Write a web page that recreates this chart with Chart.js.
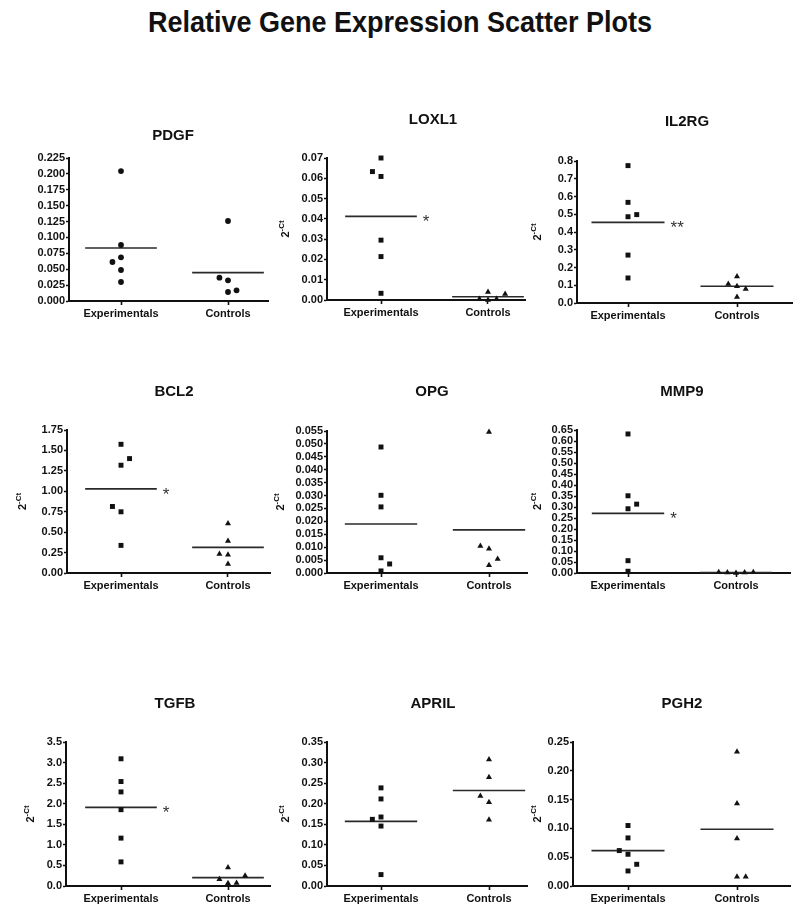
<!DOCTYPE html>
<html><head><meta charset="utf-8">
<script src="https://cdn.jsdelivr.net/npm/chart.js@4.4.1/dist/chart.umd.min.js"></script>
<style>
html,body{margin:0;padding:0;background:#fff;width:800px;height:912px;overflow:hidden;position:relative;}
#title{position:absolute;left:0;top:7px;width:800px;text-align:center;font:bold 30px "Liberation Sans",Arial,sans-serif;line-height:30px;color:#111;transform:scaleX(0.9);transform-origin:400px 0;}
canvas{position:absolute;}
</style></head><body>
<div id="title">Relative Gene Expression Scatter Plots</div>
<script>
// ---------- DATA ----------
const categories = ['Experimentals', 'Controls'];
const genes = ['PDGF', 'LOXL1', 'IL2RG', 'BCL2', 'OPG', 'MMP9', 'TGFB', 'APRIL', 'PGH2'];

const pdgfExp  = [0.2045, 0.0881, 0.0687, 0.0614, 0.0488, 0.0299];
const pdgfExpSlot = [0, 0, 0, -1, 0, 0];
const pdgfCtrl = [0.1259, 0.0367, 0.0325, 0.0168, 0.0142];
const pdgfCtrlSlot = [0, -1, 0, 1, 0];
const pdgfMeans = [0.0834, 0.0446];
const pdgfSig = ['', ''];

const loxl1Exp  = [0.0700, 0.0633, 0.0609, 0.0295, 0.0214, 0.0033];
const loxl1ExpSlot = [0, -1, 0, 0, 0, 0];
const loxl1Ctrl = [0.0040, 0.0005, 0.0000, 0.0005, 0.0030];
const loxl1CtrlSlot = [0, -1, 0, 1, 2];
const loxl1Means = [0.0412, 0.0016];
const loxl1Sig = ['*', ''];

const il2rgExp  = [0.774, 0.567, 0.498, 0.486, 0.270, 0.141];
const il2rgExpSlot = [0, 0, 1, 0, 0, 0];
const il2rgCtrl = [0.150, 0.107, 0.094, 0.079, 0.034];
const il2rgCtrlSlot = [0, -1, 0, 1, 0];
const il2rgMeans = [0.454, 0.094];
const il2rgSig = ['**', ''];

const bcl2Exp  = [1.575, 1.400, 1.319, 0.814, 0.749, 0.338];
const bcl2ExpSlot = [0, 1, 0, -1, 0, 0];
const bcl2Ctrl = [0.606, 0.391, 0.232, 0.224, 0.110];
const bcl2CtrlSlot = [0, 0, -1, 0, 0];
const bcl2Means = [1.030, 0.313];
const bcl2Sig = ['*', ''];

const opgExp  = [0.0488, 0.0301, 0.0256, 0.0059, 0.0035, 0.0008];
const opgExpSlot = [0, 0, 0, 0, 1, 0];
const opgCtrl = [0.0546, 0.0105, 0.0094, 0.0054, 0.0030];
const opgCtrlSlot = [0, -1, 0, 1, 0];
const opgMeans = [0.0190, 0.0167];
const opgSig = ['', ''];

const mmp9Exp  = [0.632, 0.351, 0.313, 0.292, 0.056, 0.008];
const mmp9ExpSlot = [0, 0, 1, 0, 0, 0];
const mmp9Ctrl = [0.003, 0.002, 0.000, 0.002, 0.003];
const mmp9CtrlSlot = [-2, -1, 0, 1, 2];
const mmp9Means = [0.271, 0.002];
const mmp9Sig = ['*', ''];

const tgfbExp  = [3.092, 2.539, 2.287, 1.855, 1.164, 0.586];
const tgfbExpSlot = [0, 0, 0, 0, 0, 0];
const tgfbCtrl = [0.448, 0.252, 0.163, 0.073, 0.065];
const tgfbCtrlSlot = [0, 2, -1, 1, 0];
const tgfbMeans = [1.912, 0.203];
const tgfbSig = ['*', ''];

const aprilExp  = [0.2385, 0.2116, 0.1677, 0.1620, 0.1457, 0.0277];
const aprilExpSlot = [0, 0, 0, -1, 0, 0];
const aprilCtrl = [0.3077, 0.2645, 0.2190, 0.2035, 0.1612];
const aprilCtrlSlot = [0, 0, -1, 0, 0];
const aprilMeans = [0.157, 0.232];
const aprilSig = ['', ''];

const pgh2Exp  = [0.105, 0.0835, 0.0615, 0.0551, 0.0377, 0.0261];
const pgh2ExpSlot = [0, 0, -1, 0, 1, 0];
const pgh2Ctrl = [0.2332, 0.1433, 0.0824, 0.0162, 0.0162];
const pgh2CtrlSlot = [0, 0, 0, 0, 1];
const pgh2Means = [0.0615, 0.0986];
const pgh2Sig = ['', ''];

// y axis: max, step, decimals of tick labels
const yMax  = [0.225, 0.07, 0.8, 1.75, 0.055, 0.65, 3.5, 0.35, 0.25];
const yStep = [0.025, 0.01, 0.1, 0.25, 0.005, 0.05, 0.5, 0.05, 0.05];
const yDecimals = [3, 2, 1, 2, 3, 2, 1, 2, 2];

const expValues  = [pdgfExp, loxl1Exp, il2rgExp, bcl2Exp, opgExp, mmp9Exp, tgfbExp, aprilExp, pgh2Exp];
const expSlots   = [pdgfExpSlot, loxl1ExpSlot, il2rgExpSlot, bcl2ExpSlot, opgExpSlot, mmp9ExpSlot, tgfbExpSlot, aprilExpSlot, pgh2ExpSlot];
const ctrlValues = [pdgfCtrl, loxl1Ctrl, il2rgCtrl, bcl2Ctrl, opgCtrl, mmp9Ctrl, tgfbCtrl, aprilCtrl, pgh2Ctrl];
const ctrlSlots  = [pdgfCtrlSlot, loxl1CtrlSlot, il2rgCtrlSlot, bcl2CtrlSlot, opgCtrlSlot, mmp9CtrlSlot, tgfbCtrlSlot, aprilCtrlSlot, pgh2CtrlSlot];
const meanValues = [pdgfMeans, loxl1Means, il2rgMeans, bcl2Means, opgMeans, mmp9Means, tgfbMeans, aprilMeans, pgh2Means];
const sigMarks   = [pdgfSig, loxl1Sig, il2rgSig, bcl2Sig, opgSig, mmp9Sig, tgfbSig, aprilSig, pgh2Sig];

// ---------- LAYOUT / STYLE ----------
// ax: y-axis x, ex/cx: category tick x, rx: x-axis end, ty/by: top/bottom of plot
const panelLayout = [
  {ax:69,  ex:121, cx:228, rx:268, ty:158, by:301, tx:173, tdy:22, lx:null},
  {ax:327, ex:381, cx:488, rx:525, ty:158, by:300, tx:433, tdy:38, lx:285},
  {ax:577, ex:628, cx:737, rx:792, ty:161, by:303, tx:687, tdy:39, lx:537},
  {ax:67,  ex:121, cx:228, rx:270, ty:430, by:573, tx:174, tdy:38, lx:22},
  {ax:327, ex:381, cx:489, rx:527, ty:431, by:573, tx:432, tdy:39, lx:280},
  {ax:577, ex:628, cx:736, rx:790, ty:430, by:573, tx:682, tdy:38, lx:537},
  {ax:66,  ex:121, cx:228, rx:270, ty:742, by:886, tx:175, tdy:38, lx:30},
  {ax:327, ex:381, cx:489, rx:527, ty:742, by:886, tx:433, tdy:38, lx:285},
  {ax:573, ex:628, cx:737, rx:790, ty:742, by:886, tx:682, tdy:38, lx:537}
];
const JIT = 0.08;       // horizontal spacing of jittered points (category units)
const HALF = 0.335;     // half width of mean line
const FONT = "'Liberation Sans', Arial, sans-serif";
const INK = '#111';
const PAD_L = 60, PAD_T = 50, PAD_R = 6, PAD_B = 6, XH = 24;

function makePanel(i) {
  const L = panelLayout[i];
  const W = L.rx - L.ax + PAD_L + PAD_R;
  const H = L.by - L.ty + PAD_T + PAD_B + XH;
  const left = L.ax - PAD_L, top = L.ty - PAD_T;
  const cv = document.createElement('canvas');
  cv.width = W; cv.height = H;
  cv.style.left = left + 'px'; cv.style.top = top + 'px';
  cv.style.width = W + 'px'; cv.style.height = H + 'px';
  document.body.appendChild(cv);

  const unit = L.cx - L.ex;
  const xMin = -(L.ex - L.ax) / unit;
  const xMax = (L.rx - L.ex) / unit;
  const circle = i === 0;
  const dec = yDecimals[i];

  const pts = (vals, slots, base) => vals.map((v, k) => ({x: base + slots[k] * JIT, y: v}));
  const pointDs = (data, style) => ({
    data, showLine: false, pointStyle: style,
    pointRadius: style === 'circle' ? 2.9 : 3.5,
    pointBackgroundColor: INK, pointBorderWidth: 0, pointBorderColor: INK,
    clip: false
  });
  const meanDs = (j) => ({
    data: [{x: j - HALF, y: meanValues[i][j]}, {x: j + HALF, y: meanValues[i][j]}],
    showLine: true, borderColor: '#2a2a2a', borderWidth: 1.6, pointRadius: 0, clip: false
  });

  const overlay = {
    id: 'overlay' + i,
    afterDraw(chart) {
      const ctx = chart.ctx;
      ctx.save();
      ctx.fillStyle = INK;
      ctx.font = 'bold 15px ' + FONT;
      ctx.textAlign = 'center'; ctx.textBaseline = 'middle';
      ctx.fillText(genes[i], L.tx - left, L.ty - L.tdy - top);
      if (L.lx !== null) {
        const cy = (chart.chartArea.top + chart.chartArea.bottom) / 2;
        ctx.translate(L.lx - left, cy);
        ctx.rotate(-Math.PI / 2);
        ctx.font = 'bold 11px ' + FONT;
        const w1 = ctx.measureText('2').width;
        ctx.font = 'bold 8px ' + FONT;
        const w2 = ctx.measureText('-Ct').width;
        const x0 = -(w1 + w2) / 2;
        ctx.textAlign = 'left'; ctx.textBaseline = 'alphabetic';
        ctx.font = 'bold 11px ' + FONT;
        ctx.fillText('2', x0, 4);
        ctx.font = 'bold 8px ' + FONT;
        ctx.fillText('-Ct', x0 + w1, -1);
        ctx.setTransform(1, 0, 0, 1, 0, 0);
      }
      const xs = chart.scales.x, ys = chart.scales.y;
      ctx.font = '17px ' + FONT;
      ctx.fillStyle = '#333';
      ctx.textAlign = 'left'; ctx.textBaseline = 'alphabetic';
      sigMarks[i].forEach((s, j) => {
        if (!s) return;
        const x = xs.getPixelForValue(j + HALF) + 6;
        const y = ys.getPixelForValue(meanValues[i][j]) + 11;
        ctx.fillText(s, x, y);
      });
      ctx.restore();
    }
  };

  new Chart(cv, {
    type: 'scatter',
    data: {
      datasets: [
        pointDs(pts(expValues[i], expSlots[i], 0), circle ? 'circle' : 'rect'),
        pointDs(pts(ctrlValues[i], ctrlSlots[i], 1), circle ? 'circle' : 'triangle'),
        meanDs(0), meanDs(1)
      ]
    },
    options: {
      responsive: false, animation: false, devicePixelRatio: 1,
      layout: {padding: {left: 0, top: PAD_T, right: PAD_R, bottom: PAD_B}},
      plugins: {legend: {display: false}, tooltip: {enabled: false}, title: {display: false}},
      scales: {
        x: {
          type: 'linear', min: xMin, max: xMax,
          afterFit: s => { s.height = XH; },
          afterBuildTicks: s => { s.ticks = [{value: 0}, {value: 1}]; },
          ticks: {callback: v => categories[v], color: INK, padding: 2, autoSkip: false, maxRotation: 0,
                  font: {family: FONT, size: 11, weight: 'bold'}},
          grid: {drawOnChartArea: false, drawTicks: true, tickLength: 4, tickWidth: 1.6, tickColor: INK},
          border: {display: true, color: INK, width: 2}
        },
        y: {
          type: 'linear', min: 0, max: yMax[i],
          afterFit: s => { s.width = PAD_L; },
          afterBuildTicks: s => {
            const n = Math.round(yMax[i] / yStep[i]);
            const t = [];
            for (let k = 0; k <= n; k++) t.push({value: +(k * yStep[i]).toFixed(6)});
            s.ticks = t;
          },
          ticks: {callback: v => Number(v).toFixed(dec), color: INK, padding: 1, autoSkip: false,
                  font: {family: FONT, size: 11, weight: 'bold'}},
          grid: {drawOnChartArea: false, drawTicks: true, tickLength: 3, tickWidth: 1.6, tickColor: INK},
          border: {display: true, color: INK, width: 2}
        }
      }
    },
    plugins: [overlay]
  });
}
for (let i = 0; i < genes.length; i++) makePanel(i);
</script>
</body></html>
